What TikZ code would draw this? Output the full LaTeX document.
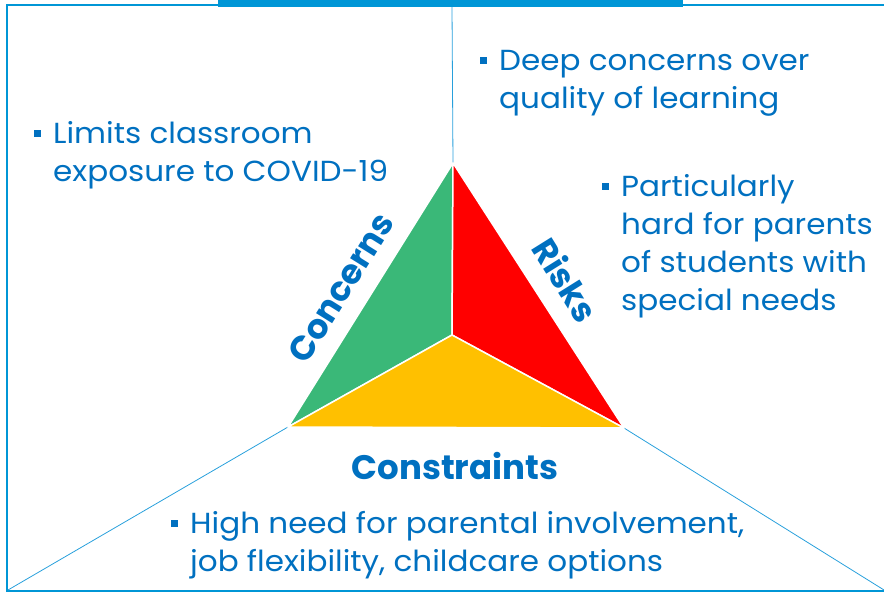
\documentclass[tikz,border=0pt]{standalone}
\usepackage{fontspec}
\setmainfont{Poppins}
\newfontfamily\widefont[FakeStretch=1.07]{Poppins}
\usetikzlibrary{positioning}
\definecolor{txtblue}{RGB}{0,112,192}
\definecolor{framblue}{RGB}{0,150,214}
\definecolor{lineblue}{RGB}{40,160,220}
\definecolor{tgreen}{RGB}{58,184,120}
\definecolor{tred}{RGB}{255,0,0}
\definecolor{tyellow}{RGB}{255,192,0}
\newcommand{\bul}{\makebox[19pt][l]{\rule[6pt]{7pt}{7pt}}}
\newcommand{\ind}{\hspace*{19pt}}
\tikzset{frame/.style={framblue, line width=2.5pt}}
\tikzset{spoke/.style={lineblue, line width=0.8pt}}
\tikzset{face/.style={draw=white, line width=1.5pt, line join=round}}
\tikzset{bullets/.style={txtblue, align=left, anchor=north west, inner sep=0pt, font=\widefont\fontsize{29}{38}\selectfont}}
\tikzset{side/.style={txtblue, inner sep=0pt, font=\fontsize{34}{36}\selectfont\bfseries}}
\begin{document}
\begin{tikzpicture}[x=1pt,y=-1pt]
\useasboundingbox (0,0) rectangle (884,593);
%frame
\draw[frame] (884,5) -- (7,5) -- (7,591) -- (884,591);
\fill[framblue] (218,0) rectangle (683,7);
%triangle corners
\coordinate (top) at (453,163);
\coordinate (lft) at (288,427);
\coordinate (rgt) at (624,428);
\coordinate (mid) at (452,335);
\coordinate (topend) at (452,7);
\coordinate (lftend) at (8,590);
\coordinate (rgtend) at (884,590);
%spokes
\draw[spoke] (topend) -- (top);
\draw[spoke] (lft) -- (lftend);
\draw[spoke] (rgt) -- (rgtend);
%faces
\draw[face, fill=tgreen] (top) -- (mid) -- (lft) -- cycle;
\draw[face, fill=tred] (top) -- (rgt) -- (mid) -- cycle;
\draw[face, fill=tyellow] (lft) -- (mid) -- (rgt) -- cycle;
%side labels
\node[side, rotate=58] (concerns) at (341,288) {Concerns};
\node[side, rotate=-58] (risks) at (566,280) {Risks};
\node[side] (constraints) at (455,466) {Constraints};
%bullet texts
\node[bullets] (expo) at (34,121) {\bul Limits classroom\\\ind exposure to COVID-19};
\node[bullets] (deep) at (480,50) {\bul Deep concerns over\\\ind quality of learning};
\node[bullets] (hard) at (602,174) {\bul Particularly\\\ind hard for parents\\\ind of students with\\\ind special needs};
\node[bullets] (need) at (171,511) {\bul High need for parental involvement,\\\ind job flexibility, childcare options};
\end{tikzpicture}
\end{document}
